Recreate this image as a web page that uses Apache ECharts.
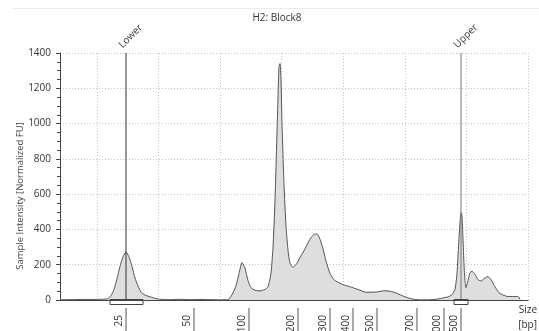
<!DOCTYPE html>
<html>
<head>
<meta charset="utf-8">
<script src="https://cdn.jsdelivr.net/npm/echarts@6/dist/echarts.min.js"></script>
<style>
html,body{margin:0;padding:0;background:#fff;}
#c{width:539px;height:331px;}
</style>
</head>
<body>
<div id="c"></div>
<script>
// migration position (axis units) of each trace sample
const traceX = [4.00,5.62,7.25,8.87,10.50,11.31,11.79,12.28,12.77,13.26,13.74,14.23,14.72,15.20,15.69,16.18,16.67,17.15,17.80,18.62,19.59,20.73,21.86,23.49,25.11,26.73,28.36,29.98,31.28,31.93,32.58,33.07,33.56,34.04,34.53,35.02,35.67,36.48,37.29,37.78,38.26,38.59,38.91,39.24,39.56,39.73,39.89,40.05,40.38,40.70,41.03,41.35,41.84,42.32,42.97,43.79,44.60,45.25,45.73,46.22,46.71,47.20,47.85,48.49,49.14,50.12,51.09,52.39,53.69,55.32,56.61,57.59,58.56,59.54,60.51,61.49,62.46,63.76,65.06,66.03,67.01,67.66,68.14,68.47,68.79,69.12,69.28,69.44,69.61,69.77,69.93,70.26,70.58,70.91,71.40,71.88,72.37,73.02,73.51,73.99,74.64,75.29,75.94,76.75,77.73,78.38,78.70];
// sample intensity [Normalized FU]
const traceY = [2,2,3,3,4,5,8,25,60,120,190,245,272,245,190,125,80,45,28,18,8,3,2,4,2,3,2,1,2,30,80,150,212,180,110,70,55,52,60,75,150,300,560,950,1320,1340,1250,1000,650,420,280,210,185,200,240,290,345,372,375,345,290,220,150,115,100,85,75,60,44,45,52,50,40,25,12,4,1,1,4,10,18,30,60,150,350,495,480,350,200,110,70,110,155,163,145,115,108,125,133,115,75,42,28,20,20,20,3];

// size ladder (bp) and their positions on the migration axis
const ladderLabels = ['25','50','100','200','300','400','500','700','1000','1500'];
const ladderPos = [14.72,25.76,34.69,42.65,47.85,51.58,55.48,61.97,66.36,69.12];

// marker lines
const markerNames = ['Lower','Upper'];
const markerPos = [14.72,69.12];
// marker integration windows [start, end]
const markerWinStart = [12.12,67.98];
const markerWinEnd = [17.48,70.26];

const yTicks = [0,200,400,600,800,1000,1200,1400];

const FONT = 'Open Sans';
const chart = echarts.init(document.getElementById('c'));

const option = {
  animation: false,
  backgroundColor: '#fff',
  textStyle: {fontFamily: FONT},
  title: {
    text: 'H2: Block8', left: 272, textAlign: 'center', top: 8,
    textStyle: {fontSize: 10, fontWeight: 'normal', color: '#333', fontFamily: FONT}
  },
  graphic: [
    {type: 'line', shape: {x1: 12, y1: 8.5, x2: 539, y2: 8.5}, style: {stroke: '#ececec', lineWidth: 1}},
    {type: 'text', x: 20, y: 196, rotation: Math.PI / 2,
     style: {text: 'Sample Intensity [Normalized FU]', align: 'center', verticalAlign: 'middle', fill: '#444', font: '9.5px "Open Sans"'}},
    {type: 'text', x: 537, y: 310,
     style: {text: 'Size', align: 'right', verticalAlign: 'middle', fill: '#333', font: '10px "Open Sans"'}},
    {type: 'text', x: 537, y: 325,
     style: {text: '[bp]', align: 'right', verticalAlign: 'middle', fill: '#333', font: '10px "Open Sans"'}}
  ],
  grid: {left: 60, right: 11, top: 53, bottom: 31},
  xAxis: {
    type: 'value', min: 4, max: 80, splitNumber: 8,
    axisLine: {show: true, onZero: false, lineStyle: {color: '#444', width: 1}},
    axisTick: {show: false}, axisLabel: {show: false},
    splitLine: {show: true, lineStyle: {type: [1, 2], color: '#c4c4c4', width: 1}}
  },
  yAxis: {
    type: 'value', min: yTicks[0], max: yTicks[yTicks.length - 1], interval: yTicks[1] - yTicks[0],
    axisLine: {show: true, lineStyle: {color: '#444', width: 1}},
    axisTick: {show: true, length: 4, lineStyle: {color: '#444'}},
    minorTick: {show: true, splitNumber: 4, length: 3, lineStyle: {color: '#444'}},
    axisLabel: {fontSize: 10, color: '#333', margin: 9, fontFamily: FONT, formatter: v => String(v)},
    splitLine: {show: true, lineStyle: {type: [1, 2], color: '#c4c4c4', width: 1}}
  },
  series: [
    {
      type: 'line', data: traceX.map((x, i) => [x, traceY[i]]),
      symbol: 'none', smooth: 0.2, z: 3,
      lineStyle: {color: '#555', width: 1},
      areaStyle: {color: '#dedede', opacity: 1}
    },
    {
      type: 'custom', clip: false, z: 5, silent: true,
      data: markerPos.map(v => [v, 0]),
      renderItem: function (params, api) {
        const i = params.dataIndex;
        const bottom = api.coord([markerPos[i], 0]);
        const top = api.coord([markerPos[i], 1400]);
        const col = i === 0 ? '#333' : '#777';
        return {type: 'group', children: [
          {type: 'line', shape: {x1: bottom[0], y1: top[1], x2: bottom[0], y2: bottom[1]}, style: {stroke: col, lineWidth: 1}},
          {type: 'text', x: bottom[0] - 2, y: top[1] - 3, rotation: Math.PI / 4,
           style: {text: markerNames[i], align: 'left', verticalAlign: 'bottom', fill: '#333', font: '10px "Open Sans"'}}
        ]};
      }
    },
    {
      type: 'custom', clip: false, z: 5, silent: true,
      data: markerWinStart.map((v, i) => [v, markerWinEnd[i]]),
      renderItem: function (params, api) {
        const i = params.dataIndex;
        const a = api.coord([markerWinStart[i], 0]);
        const b = api.coord([markerWinEnd[i], 0]);
        return {type: 'rect', shape: {x: a[0], y: a[1] - 0.5, width: b[0] - a[0], height: 5},
          style: {fill: 'none', stroke: '#444', lineWidth: 1}};
      }
    },
    {
      type: 'custom', clip: false, z: 5, silent: true,
      data: ladderPos.map(v => [v, 0]),
      renderItem: function (params, api) {
        const i = params.dataIndex;
        const p = api.coord([ladderPos[i], 0]);
        return {type: 'group', children: [
          {type: 'line', shape: {x1: p[0], y1: p[1] + 8, x2: p[0], y2: p[1] + 32}, style: {stroke: '#555', lineWidth: 1}},
          {type: 'text', x: p[0] - 7, y: p[1] + 15, rotation: Math.PI / 2,
           style: {text: ladderLabels[i], align: 'right', verticalAlign: 'middle', fill: '#333', font: '10px "Open Sans"'}}
        ]};
      }
    }
  ]
};
chart.setOption(option);
</script>
</body>
</html>
